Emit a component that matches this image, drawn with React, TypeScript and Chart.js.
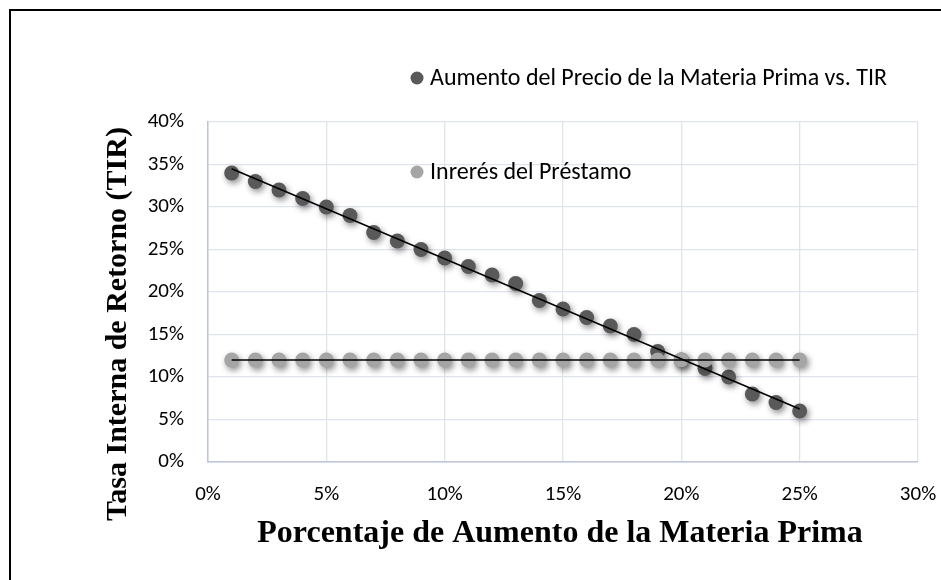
import React, { useEffect, useRef } from "react";
import { Chart, registerables } from "chart.js";

Chart.register(...registerables);

const increasePct = [1, 2, 3, 4, 5, 6, 7, 8, 9, 10, 11, 12, 13, 14, 15, 16, 17, 18, 19, 20, 21, 22, 23, 24, 25];
const tirPct = [34, 33, 32, 31, 30, 29, 27, 26, 25, 24, 23, 22, 21, 19, 18, 17, 16, 15, 13, 12, 11, 10, 8, 7, 6];
const loanPct = [12, 12, 12, 12, 12, 12, 12, 12, 12, 12, 12, 12, 12, 12, 12, 12, 12, 12, 12, 12, 12, 12, 12, 12, 12];

const seriesTirLabel = "Aumento del Precio de la Materia Prima vs. TIR";
const seriesLoanLabel = "Inrerés del Préstamo";
const xTitle = "Porcentaje de Aumento de la Materia Prima";
const yTitle = "Tasa Interna de Retorno (TIR)";

const TICK_FONT = "Calibri, Carlito, Lato, sans-serif";
const TITLE_FONT = "'Liberation Serif', 'Times New Roman', serif";

function linearFit(xs: number[], ys: number[]) {
  const n = xs.length;
  let sx = 0, sy = 0, sxx = 0, sxy = 0;
  for (let i = 0; i < n; i++) {
    sx += xs[i]; sy += ys[i]; sxx += xs[i] * xs[i]; sxy += xs[i] * ys[i];
  }
  const slope = (n * sxy - sx * sy) / (n * sxx - sx * sx);
  const intercept = (sy - slope * sx) / n;
  const x0 = Math.min(...xs), x1 = Math.max(...xs);
  return [
    { x: x0, y: intercept + slope * x0 },
    { x: x1, y: intercept + slope * x1 },
  ];
}

const DARK = "#595959";
const LIGHT = "#a5a5a5";

const decorPlugin = {
  id: "decor",
  beforeDraw(chart: any) {
    const ctx = chart.ctx;
    ctx.save();
    ctx.fillStyle = "#ffffff";
    ctx.fillRect(0, 0, chart.width, chart.height);
    ctx.restore();
  },
  beforeDatasetDraw(chart: any, args: any) {
    const ds = chart.data.datasets[args.index];
    if (ds.shadow) {
      const ctx = chart.ctx;
      ctx.save();
      ctx.shadowColor = "rgba(0,0,0,0.45)";
      ctx.shadowBlur = 6;
      ctx.shadowOffsetX = 2;
      ctx.shadowOffsetY = 3;
    }
  },
  afterDatasetDraw(chart: any, args: any) {
    const ds = chart.data.datasets[args.index];
    if (ds.shadow) chart.ctx.restore();
  },
  afterDraw(chart: any) {
    const ctx = chart.ctx;
    ctx.save();
    // frame
    ctx.strokeStyle = "#000";
    ctx.lineWidth = 2;
    ctx.strokeRect(10, 10, chart.width + 50, chart.height + 50);

    // legends
    ctx.font = `24px ${TICK_FONT}`;
    ctx.textBaseline = "middle";
    ctx.textAlign = "left";
    const legends = [
      { label: seriesTirLabel, color: DARK, x: 417, y: 78 },
      { label: seriesLoanLabel, color: LIGHT, x: 417, y: 172 },
    ];
    for (const l of legends) {
      ctx.fillStyle = l.color;
      ctx.beginPath();
      ctx.arc(l.x, l.y, 6.5, 0, Math.PI * 2);
      ctx.fill();
      ctx.fillStyle = "#000";
      ctx.fillText(l.label, l.x + 13, l.y + 1);
    }

    // axis titles
    ctx.fillStyle = "#000";
    ctx.font = `bold 32px ${TITLE_FONT}`;
    ctx.textAlign = "center";
    ctx.fillText(xTitle, 560, 534);

    ctx.translate(118, 324);
    ctx.rotate(-Math.PI / 2);
    ctx.font = `bold 30px ${TITLE_FONT}`;
    ctx.fillText(yTitle, 0, 0);
    ctx.restore();
  },
};

export default function App() {
  const ref = useRef<HTMLCanvasElement | null>(null);
  useEffect(() => {
    if (!ref.current) return;
    const tirPoints = increasePct.map((x, i) => ({ x, y: tirPct[i] }));
    const loanPoints = increasePct.map((x, i) => ({ x, y: loanPct[i] }));
    const chart = new Chart(ref.current, {
      type: "scatter",
      data: {
        datasets: [
          {
            label: seriesTirLabel,
            data: tirPoints,
            backgroundColor: DARK,
            borderColor: DARK,
            pointRadius: 7.5,
            borderWidth: 0,
            order: 4,
            shadow: true,
          } as any,
          {
            label: seriesLoanLabel,
            data: loanPoints,
            backgroundColor: LIGHT,
            borderColor: LIGHT,
            pointRadius: 7.5,
            borderWidth: 0,
            order: 3,
            shadow: true,
          } as any,
          {
            type: "line",
            label: "trend1",
            data: linearFit(increasePct, tirPct),
            borderColor: "#000",
            borderWidth: 1.5,
            pointRadius: 0,
            showLine: true,
            order: 2,
          } as any,
          {
            type: "line",
            label: "trend2",
            data: linearFit(increasePct, loanPct),
            borderColor: "#000",
            borderWidth: 1.5,
            pointRadius: 0,
            showLine: true,
            order: 1,
          } as any,
        ],
      },
      options: {
        responsive: false,
        animation: false,
        layout: { padding: { left: 0, top: 122, right: 23, bottom: 0 } },
        plugins: { legend: { display: false }, tooltip: { enabled: false } },
        scales: {
          x: {
            type: "linear",
            min: 0,
            max: 30,
            ticks: {
              stepSize: 5,
              padding: 20,
              color: "#000",
              font: { family: TICK_FONT, size: 21 },
              callback: (v: any) => `${v}%`,
            },
            grid: { color: "#dfe3ea", lineWidth: 1.3, drawTicks: false },
            border: { color: "#bcc6d9", width: 1.5 },
            afterFit: (s: any) => {
              s.height = 118;
              s.paddingLeft = 0;
              s.paddingRight = 0;
            },
          },
          y: {
            type: "linear",
            min: 0,
            max: 40,
            ticks: {
              stepSize: 5,
              padding: 24,
              color: "#000",
              font: { family: TICK_FONT, size: 21 },
              callback: (v: any) => `${v}%`,
            },
            grid: { color: "#dfe3ea", lineWidth: 1.3, drawTicks: false },
            border: { color: "#bcc6d9", width: 1.5 },
            afterFit: (s: any) => {
              s.width = 208;
              s.paddingTop = 0;
              s.paddingBottom = 0;
            },
          },
        },
      },
      plugins: [decorPlugin],
    } as any);
    return () => chart.destroy();
  }, []);
  return (
    <div style={{ position: "fixed", left: 0, top: 0, width: 941, height: 580, background: "#fff" }}>
      <canvas ref={ref} width={941} height={580} style={{ display: "block" }} />
    </div>
  );
}
